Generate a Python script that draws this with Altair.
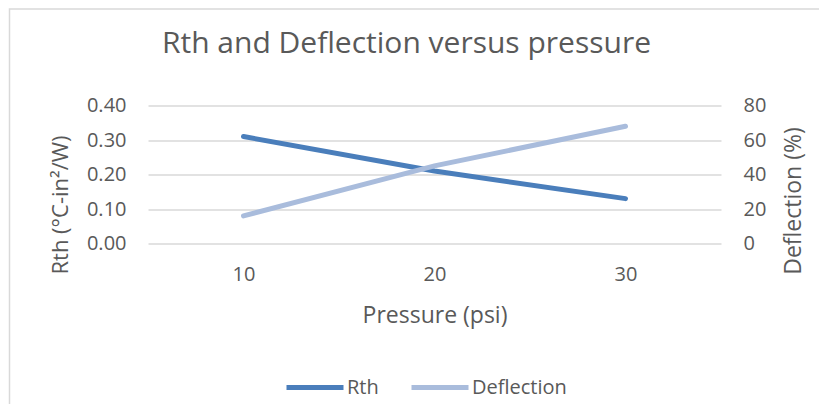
import altair as alt
import pandas as pd

pressure = [10, 20, 30]
rth = [0.31, 0.21, 0.13]
deflection = [16, 45, 68]
series_names = ["Rth", "Deflection"]
series_colors = ["#4A7EBB", "#A9BCDC"]
rth_ticks = [0, 0.1, 0.2, 0.3, 0.4]
defl_ticks = [0, 20, 40, 60, 80]

df = pd.DataFrame({
    "Pressure": pressure * 2,
    "series": ["Rth"] * len(pressure) + ["Deflection"] * len(pressure),
    "value": rth + deflection,
})

FONT = "Open Sans"
TXT = "#595959"
GRID = "#D9D9D9"

x_enc = alt.X(
    "Pressure:O",
    scale=alt.Scale(padding=0.5),
    axis=alt.Axis(
        title="Pressure (psi)", labelAngle=0, ticks=False, tickSize=0, domain=False,
        grid=False, labelPadding=37, labelBaseline="alphabetic", labelFontSize=20,
        titleY=79, titleBaseline="alphabetic", titleFontSize=23,
    ),
)

color_enc = alt.Color(
    "series:N",
    scale=alt.Scale(domain=series_names, range=series_colors),
    legend=alt.Legend(
        title=None, orient="none", legendX=136, legendY=251, direction="horizontal",
        symbolType="stroke", symbolSize=3249, symbolStrokeWidth=5,
        labelFontSize=20, labelColor=TXT, labelFont=FONT, columnPadding=22,
        labelOffset=1, padding=0,
    ),
)

base = alt.Chart(df)

rth_line = base.transform_filter(alt.datum.series == "Rth").mark_line(
    strokeWidth=5, strokeCap="round"
).encode(
    x=x_enc,
    y=alt.Y(
        "value:Q",
        scale=alt.Scale(domain=[0, 0.4]),
        axis=alt.Axis(
            title="Rth (°C-in²/W)", values=rth_ticks, format=".2f", orient="left",
            domain=False, ticks=False, tickSize=0, labelPadding=22, grid=True,
            gridColor=GRID, gridWidth=1.5, labelFontSize=20,
            titleAngle=270, titleAlign="center", titleBaseline="bottom", titleX=-76,
            titleY=99, titleFontSize=22,
        ),
    ),
    color=color_enc,
)

defl_line = base.transform_filter(alt.datum.series == "Deflection").mark_line(
    strokeWidth=5, strokeCap="round"
).encode(
    x=x_enc,
    y=alt.Y(
        "value:Q",
        scale=alt.Scale(domain=[0, 80]),
        axis=alt.Axis(
            title="Deflection (%)", values=defl_ticks, orient="right",
            domain=False, ticks=False, tickSize=0, labelPadding=22, grid=False,
            labelFontSize=20,
            titleAngle=270, titleAlign="center", titleBaseline="top", titleX=61,
            titleY=95, titleFontSize=23,
        ),
    ),
    color=color_enc,
)

border = alt.Chart(pd.DataFrame({"a": [0]})).mark_rect(
    fill=None, stroke=GRID, strokeWidth=1.5
).encode(
    x=alt.value(-138.5), x2=alt.value(760), y=alt.value(-96.5), y2=alt.value(400)
)

chart = alt.layer(border, rth_line, defl_line).resolve_scale(y="independent").properties(
    width=573,
    height=138,
    autosize=alt.AutoSizeParams(type="none"),
    padding={"left": 140, "top": 97.5, "right": 98, "bottom": 160},
    title=alt.Title(
        "Rth and Deflection versus pressure", fontSize=30, font=FONT, color=TXT,
        fontWeight="normal", anchor="middle", dx=-28, offset=-74.75, baseline="alphabetic",
    ),
).configure(background="white").configure_view(stroke=None).configure_axis(
    labelFont=FONT, titleFont=FONT, labelColor=TXT, titleColor=TXT, titleFontWeight="normal"
)

chart.save("out.html", embed_options={"renderer": "svg", "actions": False})
